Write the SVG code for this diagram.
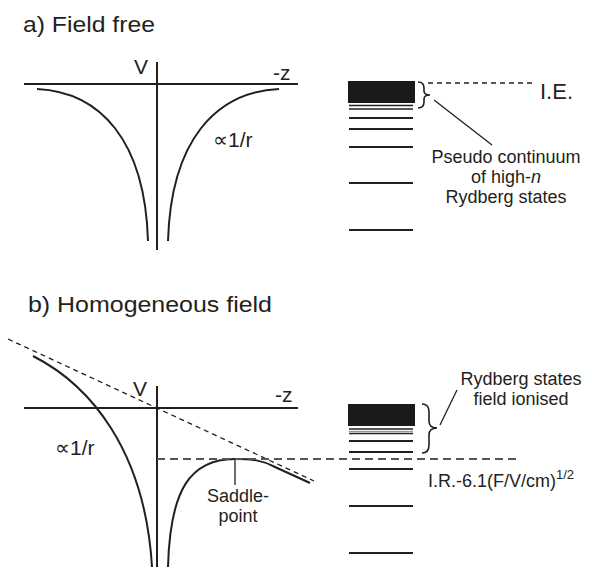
<svg xmlns="http://www.w3.org/2000/svg" width="592" height="571" viewBox="0 0 592 571">
<style>
text{font-family:"Liberation Sans",Arial,"DejaVu Sans",sans-serif;fill:#231f20}
.ax{stroke:#231f20;stroke-width:2;fill:none}
.cv{stroke:#231f20;stroke-width:2;fill:none}
.lv{stroke:#231f20;stroke-width:2}
.lt{stroke:#231f20;stroke-width:1.3}
.ds{stroke:#231f20;stroke-width:1.3;stroke-dasharray:5 4;fill:none}
.dh{stroke:#555;stroke-width:1.8;stroke-dasharray:8 5;fill:none}
.br{stroke:#231f20;stroke-width:1.6;fill:none}
.ld{stroke:#231f20;stroke-width:1.3;fill:none}
.t22{font-size:22px}.t21{font-size:21px}.t18{font-size:18px}
</style>
<g id="panel-a">
<text class="t22" x="23" y="32" textLength="132" lengthAdjust="spacingAndGlyphs">a) Field free</text>
<g id="axes-a">
<line class="ax" x1="24" y1="84" x2="298" y2="84"/>
<line class="ax" x1="157" y1="62" x2="157" y2="250"/>
<text class="t21" x="134" y="74">V</text>
<text class="t21" x="273" y="80">-z</text>
</g>
<g id="potential-a">
<path class="cv" d="M37,89 C100,92 145,140 148,241"/>
<path class="cv" d="M279,89 C216,92 171,140 168,241"/>
<text class="t21" x="213" y="147">∝1/r</text>
</g>
<g id="levels-a">
<rect x="348" y="81" width="67" height="22" fill="#1a1a1a"/>
<line class="lt" x1="349" y1="105.5" x2="413" y2="105.5"/>
<line class="lt" x1="349" y1="109" x2="413" y2="109"/>
<line class="lv" x1="349" y1="118" x2="413" y2="118"/>
<line class="lv" x1="349" y1="129" x2="413" y2="129"/>
<line class="lv" x1="349" y1="147" x2="413" y2="147"/>
<line class="lv" x1="349" y1="183" x2="413" y2="183"/>
<line class="lv" x1="349" y1="230" x2="413" y2="230"/>
</g>
<g id="ie">
<path class="br" d="M418,82 Q424,82 424,88 L424,91 Q424,95 430,95 Q424,95 424,99 L424,102 Q424,108 418,108"/>
<line class="ds" x1="428" y1="83" x2="533" y2="83" stroke-dasharray="6 4"/>
<text class="t22" x="540" y="99">I.E.</text>
</g>
<g id="pseudo-label">
<text class="t18" text-anchor="middle" x="506" y="163">Pseudo continuum</text>
<text class="t18" text-anchor="middle" x="506" y="183">of high-<tspan font-style="italic">n</tspan></text>
<text class="t18" text-anchor="middle" x="506" y="203">Rydberg states</text>
</g>
</g>
<g id="panel-b">
<text class="t22" x="28" y="312" textLength="244" lengthAdjust="spacingAndGlyphs">b) Homogeneous field</text>
<g id="axes-b">
<line class="ax" x1="24" y1="408" x2="298" y2="408"/>
<line class="ax" x1="157" y1="386" x2="157" y2="567"/>
<text class="t21" x="133" y="396">V</text>
<text class="t21" x="275" y="402">-z</text>
</g>
<g id="potential-b">
<path class="cv" d="M33,356 C90,385 145,450 152,567"/>
<path class="cv" d="M168,567 C170,490 190,459 235,459 C252,459 262,460 275,467 L310,483"/>
<text class="t21" x="55" y="455">∝1/r</text>
</g>
<g id="saddle">
<text class="t18" text-anchor="middle" x="238" y="502">Saddle-</text>
<text class="t18" text-anchor="middle" x="238" y="522">point</text>
</g>
<g id="levels-b">
<rect x="348" y="404" width="67" height="22" fill="#1a1a1a"/>
<line class="lt" x1="349" y1="429" x2="413" y2="429"/>
<line x1="349" y1="431.4" x2="413" y2="431.4" stroke="#888" stroke-width="1"/>
<line class="lt" x1="349" y1="433.5" x2="413" y2="433.5"/>
<line class="lv" x1="349" y1="441" x2="413" y2="441"/>
<line class="lv" x1="349" y1="452" x2="413" y2="452"/>
<line class="lv" x1="349" y1="469" x2="413" y2="469"/>
<line class="lv" x1="349" y1="506" x2="413" y2="506"/>
<line class="lv" x1="349" y1="553" x2="413" y2="553"/>
</g>
<g id="ionised-label">
<path class="br" d="M422,404 Q429,404 429,412 L429,421 Q429,428 437,428 Q429,428 429,435 L429,445 Q429,453 422,453"/>
<text class="t18" text-anchor="middle" x="521" y="385">Rydberg states</text>
<text class="t18" text-anchor="middle" x="521" y="405">field ionised</text>
</g>
<g id="ir-label">
<text class="t18" x="428" y="487" font-size="19">I.R.-6.1(F/V/cm)<tspan font-size="13" dy="-8">1/2</tspan></text>
</g>
</g>
<g id="connectors">
<line class="ld" x1="434" y1="100" x2="492" y2="145"/>
<line class="ld" x1="440" y1="425" x2="457" y2="390"/>
<line class="ld" x1="235" y1="460" x2="235" y2="485"/>
<line class="ds" x1="8" y1="339" x2="314" y2="481"/>
<line class="dh" x1="157" y1="459" x2="518" y2="459"/>
</g>
</svg>
